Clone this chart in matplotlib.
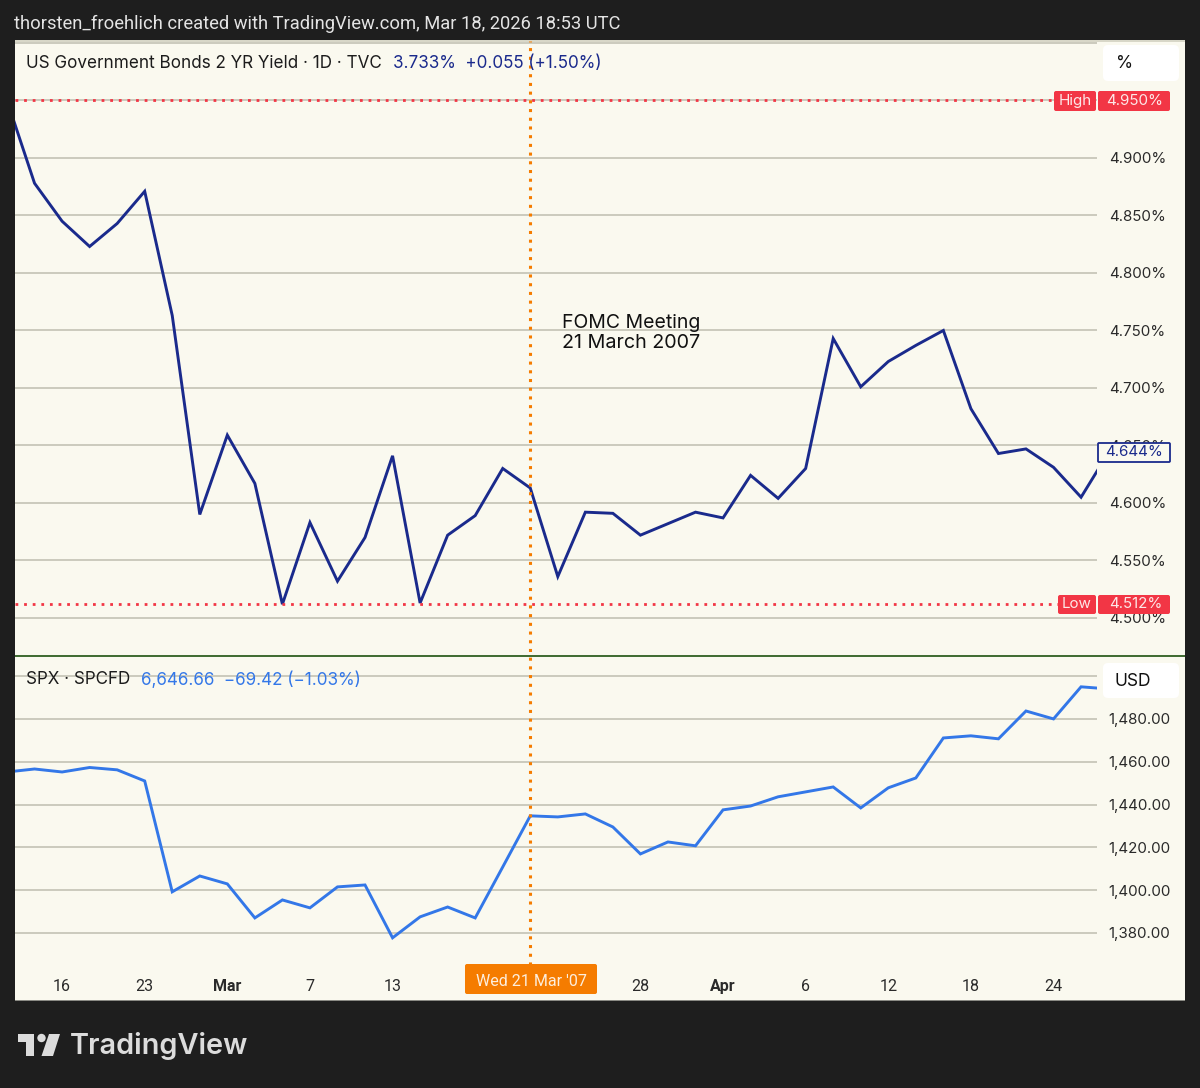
# Recreates the 2Y yield / SPX TradingView snapshot around the March 2007 FOMC
import matplotlib
matplotlib.use("Agg")
from matplotlib import pyplot as plt
from matplotlib.patches import FancyBboxPatch, Rectangle, Circle, Polygon

# Data (one value per trading day)
yield_2y = [4.950, 4.878, 4.845, 4.823, 4.843, 4.871, 4.763, 4.590, 4.659, 4.617,
            4.512, 4.583, 4.532, 4.570, 4.641, 4.513, 4.572, 4.589, 4.630, 4.613,
            4.536, 4.592, 4.591, 4.572, 4.582, 4.592, 4.587, 4.624, 4.604, 4.630,
            4.743, 4.701, 4.723, 4.737, 4.750, 4.682, 4.643, 4.647, 4.631, 4.605,
            4.644]
spx = [1455.2, 1456.6, 1455.2, 1457.3, 1456.2, 1451.0, 1399.2, 1406.6, 1402.9, 1387.0,
       1395.4, 1391.7, 1401.5, 1402.4, 1377.7, 1387.5, 1392.1, 1387.0, 1410.8, 1434.7,
       1434.2, 1435.6, 1429.5, 1416.9, 1422.5, 1420.7, 1437.5, 1439.3, 1443.6, 1445.9,
       1448.2, 1438.4, 1447.8, 1452.4, 1471.1, 1472.1, 1470.7, 1483.7, 1480.0, 1495.0,
       1494.0]
tick_idx = [2, 5, 8, 11, 14, 23, 26, 29, 32, 35, 38]
tick_labels = ["16", "23", "Mar", "7", "13", "28", "Apr", "6", "12", "18", "24"]
yield_ticks = [4.50, 4.55, 4.60, 4.65, 4.70, 4.75, 4.80, 4.85, 4.90, 4.95, 5.00]
spx_ticks = [1380, 1400, 1420, 1440, 1460, 1480, 1500]
fomc_idx = 19
yield_high = 4.950
yield_low = 4.512
yield_last = 4.644

W, H = 1200, 1088
DARK = "#1e1e1e"
PANEL = "#faf9ef"
GRID = "#bfbeb0"
NAVY = "#1a2a8c"
BLUE = "#3377e8"
RED = "#f23645"
ORANGE = "#f57c00"
LABEL = "#2a2a2a"
UI_FONT = ["Inter", "DejaVu Sans"]
ROBOTO = ["Roboto", "DejaVu Sans"]

plt.rcParams["font.family"] = UI_FONT

fig = plt.figure(figsize=(W / 100, H / 100), dpi=100, facecolor=DARK)


def px_axes(left, top, right, bottom, zorder):
    # axes placed by pixel box of the screenshot
    ax = fig.add_axes([left / W, 1 - bottom / H, (right - left) / W, (bottom - top) / H])
    ax.set_zorder(zorder)
    ax.patch.set_alpha(0)
    return ax


def idx_lim(left, right):
    return (left - 7.0) / 27.54, (right - 7.0) / 27.54


# Background panels
bg = px_axes(0, 0, W, H, 0)
bg.set_xlim(0, W)
bg.set_ylim(H, 0)
bg.axis("off")
bg.add_patch(Rectangle((15, 41), 1170, 959, fc=PANEL, ec="none"))
bg.add_patch(Rectangle((15, 40), 1170, 2, fc="#d8d7c8", ec="none"))
bg.add_patch(Rectangle((15, 999.5), 1170, 1.5, fc="#8a8a84", ec="none"))

# Yield pane
ax1 = px_axes(15, 41, 1097, 655, 2)
ax1.plot(range(len(yield_2y)), yield_2y, color=NAVY, lw=2.1, solid_joinstyle="miter")
ax1.set_xlim(*idx_lim(15, 1097))
ax1.set_ylim(4.4678, 5.0017)
ax1.set_yticks(yield_ticks)
ax1.set_yticklabels([f"{t:.3f}%" if t not in (4.95, 5.00) else "" for t in yield_ticks])
ax1.axhline(yield_high, color=RED, lw=2, ls=(0, (1, 2.1)), zorder=3)
ax1.axhline(yield_low, color=RED, lw=2, ls=(0, (1, 2.1)), zorder=3)

# SPX pane
ax2 = px_axes(15, 656, 1097, 965, 2)
ax2.plot(range(len(spx)), spx, color=BLUE, lw=2.1, solid_joinstyle="miter")
ax2.set_xlim(*idx_lim(15, 1097))
ax2.set_ylim(1365, 1509.4)
ax2.set_yticks(spx_ticks)
ax2.set_yticklabels([f"{t:,.2f}" if t != 1500 else "" for t in spx_ticks])
ax2.set_xticks(tick_idx)
ax2.set_xticklabels(tick_labels, fontsize=11.5, color=LABEL, family=ROBOTO)
for lab in ax2.get_xticklabels():
    if lab.get_text() in ("Mar", "Apr"):
        lab.set_fontweight("bold")
ax2.tick_params(axis="x", length=0, pad=10)

for ax in (ax1, ax2):
    ax.yaxis.tick_right()
    ax.tick_params(axis="y", length=0, pad=8.5, labelsize=10.9, labelcolor=LABEL)
    ax.grid(axis="y", color=GRID, lw=1.1)
    ax.set_axisbelow(True)
    for s in ax.spines.values():
        s.set_visible(False)
ax1.set_xticks([])

# FOMC crosshair runs through both panes
ax_v = px_axes(15, 41, 1097, 965, 3)
ax_v.set_xlim(*idx_lim(15, 1097))
ax_v.axis("off")
ax_v.axvline(fomc_idx, color=ORANGE, lw=2.2, ls=(0, (1, 1.85)))

# Everything else sits on a pixel overlay
fg = px_axes(0, 0, W, H, 5)
fg.set_xlim(0, W)
fg.set_ylim(H, 0)
fg.axis("off")


def tag(x0, y0, x1, y1, fc, ec="none", pad=2):
    fg.add_patch(FancyBboxPatch((x0 + pad, y0 + pad), x1 - x0 - 2 * pad, y1 - y0 - 2 * pad,
                                boxstyle=f"round,pad={pad},rounding_size={pad}",
                                fc=fc, ec=ec, lw=1.3))


fg.plot([15, 1185], [655.5, 655.5], color="#2f5f20", lw=1.3, solid_capstyle="butt")

# Header and footer
fg.text(14, 24, "thorsten_froehlich created with TradingView.com, Mar 18, 2026 18:53 UTC",
        color="#e4e4e4", fontsize=13.2, family=ROBOTO, va="center")
fg.add_patch(Rectangle((17.5, 1034), 16.5, 7.5, fc="#dcdcdc", ec="none"))
fg.add_patch(Rectangle((25.7, 1034), 8.3, 22, fc="#dcdcdc", ec="none"))
fg.add_patch(Circle((41.5, 1038), 4.2, fc="#dcdcdc", ec="none"))
fg.add_patch(Polygon([(49, 1034), (60, 1034), (53, 1056), (41.5, 1056)], fc="#dcdcdc", ec="none"))
fg.text(70, 1046, "TradingView", color="#dcdcdc", fontsize=20.8, fontweight="semibold", va="center")

# Legends
fg.text(26, 63, "US Government Bonds 2 YR Yield · 1D · TVC", color="#1c1c1c", fontsize=12.3, va="center")
fg.text(393, 63, "3.733%  +0.055 (+1.50%)", color=NAVY, fontsize=12.25, va="center")
fg.text(26, 680, "SPX · SPCFD", color="#1c1c1c", fontsize=12.25, va="center")
fg.text(141, 680, "6,646.66  −69.42 (−1.03%)", color=BLUE, fontsize=12.3, va="center")

# Annotation
fg.text(562, 323, "FOMC Meeting", color="#111111", fontsize=14, va="center")
fg.text(562, 343, "21 March 2007", color="#111111", fontsize=14.2, va="center")

# Unit boxes
tag(1103, 45, 1179, 81, "white", pad=5)
fg.text(1116, 64, "%", color="#111111", fontsize=12.5, va="center")
tag(1103, 663, 1179, 698, "white", pad=5)
fg.text(1115, 682, "USD", color="#111111", fontsize=12.5, va="center")

# High / Low / last value tags
tag(1054, 91, 1096, 111, RED)
fg.text(1075, 101, "High", color="#fde8e8", fontsize=10.9, ha="center", va="center")
tag(1098, 91, 1170, 111, RED)
fg.text(1163, 101, f"{yield_high:.3f}%", color="#fde8e8", fontsize=10.9, ha="right", va="center")
tag(1058, 595, 1096, 614, RED)
fg.text(1077, 604.5, "Low", color="#fde8e8", fontsize=10.9, ha="center", va="center")
tag(1098, 595, 1170, 614, RED)
fg.text(1163, 604.5, f"{yield_low:.3f}%", color="#fde8e8", fontsize=10.9, ha="right", va="center")
tag(1098, 443, 1170, 462, PANEL, ec=NAVY, pad=1)
fg.text(1163, 452.5, f"{yield_last:.3f}%", color=NAVY, fontsize=10.9, ha="right", va="center")

# Date tag on the time axis
tag(465, 964, 597, 994, ORANGE)
fg.text(531, 982, "Wed 21 Mar '07", color="#fdeedd", fontsize=11.5, family=ROBOTO, ha="center", va="center")

fig.savefig("out.png", dpi=100, facecolor=DARK)
